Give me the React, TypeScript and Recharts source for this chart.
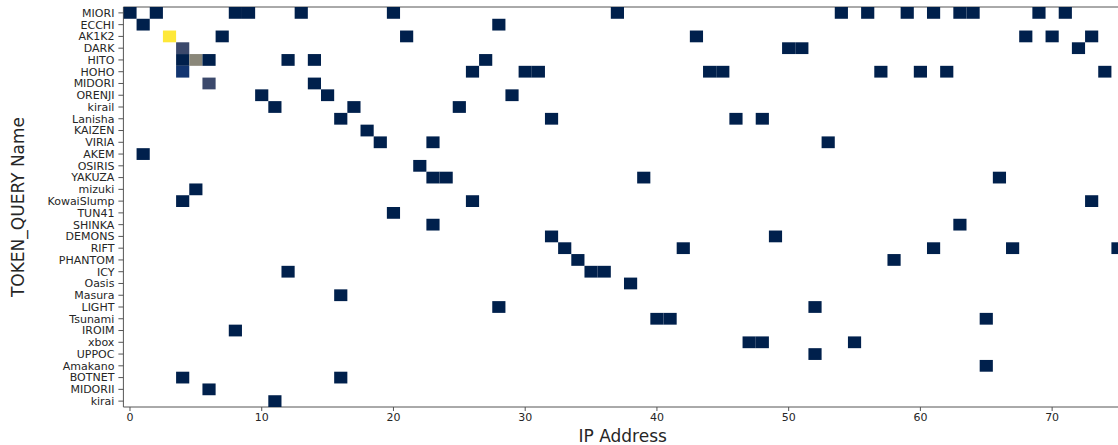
import React from "react";
import { ScatterChart, Scatter, XAxis, YAxis, ReferenceLine } from "recharts";

const tokenNames = [
  "MIORI", "ECCHI", "AK1K2", "DARK", "HITO", "HOHO", "MIDORI", "ORENJI", "kirail", "Lanisha",
  "KAIZEN", "VIRIA", "AKEM", "OSIRIS", "YAKUZA", "mizuki", "KowaiSlump", "TUN41", "SHINKA", "DEMONS",
  "RIFT", "PHANTOM", "ICY", "Oasis", "Masura", "LIGHT", "Tsunami", "IROIM", "xbox", "UPPOC",
  "Amakano", "BOTNET", "MIDORII", "kirai",
];

// IP address index hit by each token (same order as tokenNames)
const tokenIps: number[][] = [
  [0, 2, 8, 9, 13, 20, 37, 54, 56, 59, 61, 63, 64, 69, 71],
  [1, 28],
  [3, 7, 21, 43, 68, 70, 73],
  [4, 50, 51, 72],
  [4, 5, 6, 12, 14, 27],
  [4, 26, 30, 31, 44, 45, 57, 60, 62, 74],
  [6, 14],
  [10, 15, 29],
  [11, 17, 25],
  [16, 32, 46, 48],
  [18],
  [19, 23, 53],
  [1],
  [22],
  [23, 24, 39, 66],
  [5],
  [4, 26, 73],
  [20],
  [23, 63],
  [32, 49],
  [33, 42, 61, 67, 75],
  [34, 58],
  [12, 35, 36],
  [38],
  [16],
  [28, 52],
  [40, 41, 65],
  [8],
  [47, 48, 55],
  [52],
  [65],
  [4, 16],
  [6],
  [11],
];

// cells with more than one hit: [token, ip, count]
const multiHits: [string, number, number][] = [
  ["AK1K2", 3, 9],
  ["DARK", 4, 3],
  ["HITO", 5, 5],
  ["HOHO", 4, 2],
  ["MIDORI", 6, 3],
];

const xTicks = [0, 10, 20, 30, 40, 50, 60, 70];

const cividis = [
  "#00204c", "#123570", "#3b496c", "#575d6d", "#707173",
  "#8a8779", "#a69d75", "#c4b56c", "#e4cf5b", "#fee838",
];

const minCount = 1;
const maxCount = 9;

const colorFor = (count: number) => {
  const t = (count - minCount) / (maxCount - minCount);
  const idx = Math.round(t * (cividis.length - 1));
  return cividis[Math.max(0, Math.min(cividis.length - 1, idx))];
};

const cells = tokenIps.flatMap((ips, row) =>
  ips.map((ip) => {
    const hit = multiHits.find((h) => h[0] === tokenNames[row] && h[1] === ip);
    return { x: ip, y: row, count: hit ? hit[2] : 1 };
  })
);

const WIDTH = 1118;
const HEIGHT = 445;
const Y_AXIS_W = 123.4;
const X_AXIS_H = 38;
const TOP = 7;
const xDomain: [number, number] = [-0.5, 75];
const yDomain: [number, number] = [-0.5, tokenNames.length - 0.5];

const plotW = WIDTH - Y_AXIS_W;
const plotH = HEIGHT - TOP - X_AXIS_H;
const cellW = plotW / (xDomain[1] - xDomain[0]);
const cellH = plotH / (yDomain[1] - yDomain[0]);

const Cell = (props: any) => {
  const { cx, cy, payload } = props;
  return (
    <rect
      x={cx - cellW / 2}
      y={cy - cellH / 2}
      width={cellW}
      height={cellH}
      fill={colorFor(payload.count)}
    />
  );
};

const font = "DejaVu Sans, sans-serif";

export default function App() {
  return (
    <div style={{ position: "absolute", left: 0, top: 0, fontFamily: font }}>
      <ScatterChart
        width={WIDTH}
        height={HEIGHT}
        margin={{ top: TOP, right: 0, bottom: 0, left: 0 }}
      >
        <XAxis
          type="number"
          dataKey="x"
          domain={xDomain}
          ticks={xTicks}
          allowDataOverflow
          height={X_AXIS_H}
          tickSize={4}
          tickMargin={2}
          stroke="#555"
          tick={{ fontSize: 11, fill: "#262626", fontFamily: font }}
          label={{
            value: "IP Address",
            position: "insideBottom",
            offset: 3,
            dx: 2,
            style: { fontSize: 17, fill: "#262626", fontFamily: font },
          }}
        />
        <YAxis
          type="number"
          dataKey="y"
          domain={yDomain}
          reversed
          allowDataOverflow
          ticks={tokenNames.map((_, i) => i)}
          interval={0}
          tickFormatter={(i: number) => tokenNames[i]}
          width={Y_AXIS_W}
          tickSize={5}
          tickMargin={4}
          stroke="#555"
          tick={{ fontSize: 11, fill: "#262626", fontFamily: font }}
          label={{
            value: "TOKEN_QUERY Name",
            angle: -90,
            position: "insideLeft",
            offset: 18,
            style: { fontSize: 17, fill: "#262626", fontFamily: font, textAnchor: "middle" },
          }}
        />
        <ReferenceLine y={-0.5} stroke="#555" ifOverflow="extendDomain" />
        <Scatter data={cells} shape={Cell} isAnimationActive={false} />
      </ScatterChart>
    </div>
  );
}
